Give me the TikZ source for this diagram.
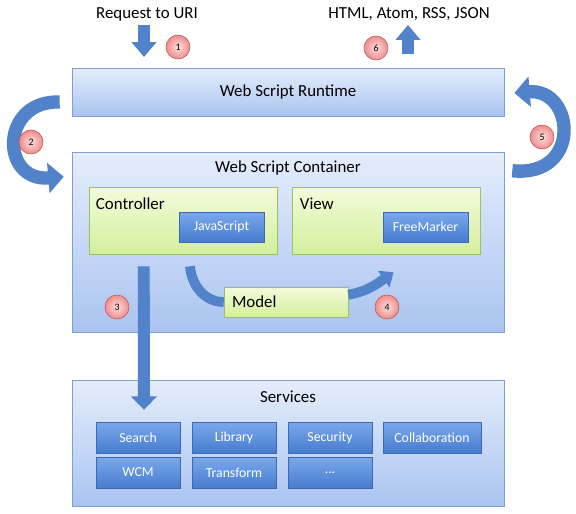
\documentclass[tikz,border=0pt]{standalone}
\usepackage{fontspec}
\setmainfont{Carlito}
\usetikzlibrary{arrows.meta,calc,shadows,positioning}

\definecolor{layertop}{RGB}{228,237,252}
\definecolor{layerbot}{RGB}{170,196,240}
\definecolor{layerline}{RGB}{128,158,208}
\definecolor{parttop}{RGB}{243,251,218}
\definecolor{partbot}{RGB}{212,239,158}
\definecolor{partline}{RGB}{158,192,100}
\definecolor{techtop}{RGB}{122,168,236}
\definecolor{techbot}{RGB}{70,124,206}
\definecolor{techline}{RGB}{62,104,176}
\definecolor{numin}{RGB}{252,222,222}
\definecolor{numout}{RGB}{240,140,140}
\definecolor{numline}{RGB}{196,82,82}
\definecolor{flowblue}{RGB}{82,130,202}

\newcommand{\unitpx}{0.025cm}

\tikzset{
  layer/.style={draw=layerline, top color=layertop, bottom color=layerbot,
    minimum width=432*\unitpx,
    drop shadow={shadow xshift=0.6pt, shadow yshift=-0.8pt, opacity=0.3}},
  part/.style={draw=partline, top color=parttop, bottom color=partbot,
    minimum width=188*\unitpx, minimum height=67*\unitpx,
    drop shadow={shadow xshift=0.6pt, shadow yshift=-0.8pt, opacity=0.3}},
  tech/.style={draw=techline, top color=techtop, bottom color=techbot,
    text=white, font=\fontsize{9.8}{11}\selectfont, inner sep=0pt,
    minimum width=85*\unitpx, minimum height=30*\unitpx,
    drop shadow={shadow xshift=0.6pt, shadow yshift=-0.8pt, opacity=0.3}},
  stepnum/.style={circle, draw=numline, inner color=numin, outer color=numout,
    minimum size=24*\unitpx, inner sep=0pt, font=\fontsize{7}{8}\selectfont},
  fatarrow/.style={draw=flowblue, line width=9pt,
    -{Triangle[width=17pt,length=10.5pt]}},
  bendarrow/.style={draw=flowblue, line width=9.5pt,
    -{Triangle[width=21pt,length=11pt]}},
  modelarrow/.style={draw=flowblue, line width=7pt}
}

\begin{document}
\begin{tikzpicture}[x=0.025cm, y=-0.025cm, font=\fontsize{12}{14}\selectfont]
\useasboundingbox (0,0) rectangle (576,513);

% Request and response
\node (request) at (147,14) {Request to URI};
\node (response) at (409,14) {HTML, Atom, RSS, JSON};

% Runtime
\node[layer, minimum height=48*\unitpx] (runtime) at (288,92) {Web Script Runtime};

% Container
\node[layer, minimum height=180*\unitpx] (container) at (288,242) {};
\node (containertitle) at (288,168) {Web Script Container};
\node[part] (controller) at (183,220.5) {};
\node[anchor=west] (controllertitle) at (91,204) {Controller};
\node[tech] (javascript) at (221.5,227) {JavaScript};
\node[part] (view) at (386.5,220.5) {};
\node[anchor=west] (viewtitle) at (295,204) {View};
\node[tech] (freemarker) at (425.5,227) {FreeMarker};
\node[part, minimum width=124*\unitpx, minimum height=30*\unitpx, inner xsep=8*\unitpx,
  text width=108*\unitpx, align=left] (model) at (286,302) {Model};

% Services
\node[layer, minimum height=126*\unitpx] (services) at (288,443) {};
\node (servicestitle) at (288,397) {Services};
\node[tech, minimum width=84*\unitpx, minimum height=31*\unitpx] (search) at (138,437.5) {Search};
\node[tech, minimum width=84*\unitpx, minimum height=31*\unitpx] (library) at (234,437.5) {Library};
\node[tech, minimum width=84*\unitpx, minimum height=31*\unitpx] (security) at (330,437.5) {Security};
\node[tech, minimum width=98*\unitpx, minimum height=31*\unitpx] (collaboration) at (432,437.5) {Collaboration};
\node[tech, minimum width=84*\unitpx, minimum height=31*\unitpx] (wcm) at (138,472.5) {WCM};
\node[tech, minimum width=84*\unitpx, minimum height=31*\unitpx] (transform) at (234,472.5) {Transform};
\node[tech, minimum width=84*\unitpx, minimum height=31*\unitpx] (more) at (330,472.5) {...};

% Step 1 and 6
\coordinate (reqtop) at (144,25);
\coordinate (reqtip) at (144,57);
\draw[fatarrow] (reqtop) -- (reqtip);
\coordinate (respbottom) at (408,54);
\coordinate (resptip) at (408,25);
\draw[fatarrow] (respbottom) -- (resptip);

% Step 2 and 5
\draw[bendarrow] ($(runtime.west)+(-12,10)$) .. controls (0,100) and (0,182) .. ($(container.north west)+(-8,25)$);
\draw[bendarrow] ($(container.north east)+(8,19)$) .. controls (582,178) and (575,88) .. ($(runtime.east)+(10,1)$);

% Step 3
\draw[fatarrow, line width=8.5pt, -{Triangle[width=18pt,length=9.5pt]}] ($(controller.south west)+(55,12)$) -- ($(search.north)+(6,-12)$);

% Step 4
\draw[modelarrow] ($(controller.south)+(7,12)$) to[out=-85, in=180] (model.west);
\draw[modelarrow, -{Triangle[width=14pt,length=8.5pt]}] ($(model.north east)+(0,8)$) to[out=10, in=215] ($(view.south)+(7,18)$);

% Step numbers
\node[stepnum] (n1) at (178,47) {1};
\node[stepnum] (n2) at (31,142) {2};
\node[stepnum] (n3) at (117,307) {3};
\node[stepnum] (n4) at (387,307) {4};
\node[stepnum] (n5) at (542,137) {5};
\node[stepnum] (n6) at (376,48) {6};
\end{tikzpicture}
\end{document}
